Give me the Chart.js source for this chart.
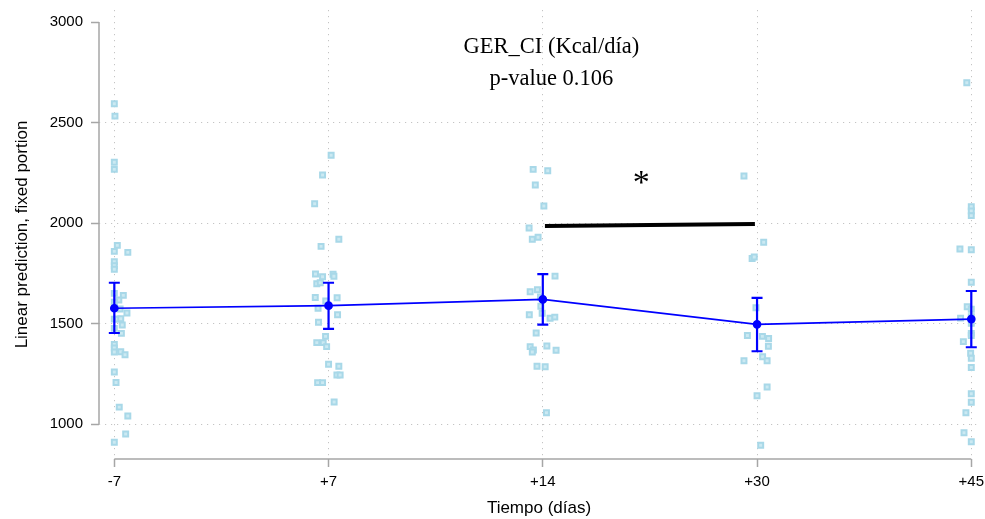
<!doctype html>
<html>
<head>
	<title>GER_CI</title>
	<script src="https://cdn.jsdelivr.net/npm/chart.js@4/dist/chart.umd.min.js"></script>
	<style>
	body { margin: 0; background: #fff; }
	</style>
</head>
<body>
	<canvas id="canvas" width="985" height="519"></canvas>
	<script>

		// time points and model predictions
		var timeLabels = ['-7', '+7', '+14', '+30', '+45'];
		var meanGER = [1576, 1589, 1620, 1496, 1522];
		var ciLow = [1453, 1473, 1495, 1362, 1382];
		var ciHigh = [1703, 1703, 1746, 1628, 1662];
		var yTicks = [1000, 1500, 2000, 2500, 3000];

		// observed values (jitter offset, value) per time point
		var jitM7 = [0, 0.003, 0, 0, 0.014, 0, 0.063, 0, 0, 0, 0, 0.042, 0.021, 0, 0, 0.027, 0.059, 0, 0.014, 0.030, 0.037, 0, 0.033, 0, 0, 0, 0.030, 0.050, 0, 0.008, 0.023, 0.063, 0.053, 0];
		var obsM7 = [2594, 2532, 2302, 2267, 1889, 1859, 1854, 1808, 1788, 1770, 1650, 1640, 1617, 1606, 1580, 1572, 1552, 1522, 1522, 1524, 1493, 1476, 1451, 1396, 1378, 1358, 1360, 1345, 1259, 1207, 1084, 1040, 950, 909];
		var jitP7 = [0.012, -0.028, -0.065, 0.048, -0.035, -0.061, -0.028, 0.021, 0.025, -0.055, -0.039, -0.062, 0.040, -0.013, -0.049, 0.042, -0.047, -0.014, -0.055, -0.025, -0.009, 0, 0.048, 0.039, 0.054, -0.051, -0.028, 0.026];
		var obsP7 = [2337, 2239, 2096, 1919, 1884, 1746, 1733, 1745, 1735, 1698, 1703, 1630, 1628, 1612, 1576, 1544, 1506, 1436, 1405, 1405, 1385, 1297, 1287, 1244, 1244, 1206, 1206, 1110];
		var jitP14 = [-0.045, 0.023, -0.035, 0.005, -0.064, -0.049, -0.022, 0.057, -0.059, -0.025, -0.011, -0.009, -0.003, -0.063, 0.034, 0.056, -0.031, -0.059, -0.044, -0.049, 0.019, 0.062, -0.027, 0.011, 0.017];
		var obsP14 = [2267, 2260, 2189, 2085, 1975, 1919, 1929, 1736, 1658, 1668, 1632, 1586, 1551, 1544, 1526, 1532, 1453, 1385, 1368, 1358, 1388, 1367, 1287, 1285, 1056];
		var jitP30 = [-0.061, 0.031, -0.023, -0.013, -0.005, -0.045, 0.025, 0.054, 0.053, 0.026, 0.047, -0.061, 0.047, 0, 0.017];
		var obsP30 = [2234, 1904, 1824, 1831, 1579, 1440, 1436, 1426, 1387, 1335, 1315, 1315, 1184, 1141, 894];
		var jitP45 = [-0.021, 0, 0, 0, -0.053, 0, 0, -0.019, 0, -0.050, 0, 0, 0, 0, -0.037, -0.003, 0, 0, 0, 0, -0.025, -0.034, 0];
		var obsP45 = [2698, 2081, 2060, 2037, 1871, 1867, 1705, 1584, 1571, 1527, 1534, 1501, 1451, 1440, 1410, 1352, 1327, 1281, 1151, 1108, 1056, 957, 912];

		// significance bar between +14 and +30
		var sigX = [2.01, 2.99];
		var sigY = [1985, 1995];
		var sigStar = {x: 2.46, y: 2224};

		var sansFont = "'Liberation Sans', Arial, sans-serif";
		var serifFont = "'Liberation Serif', 'Times New Roman', serif";

		var jitters = [jitM7, jitP7, jitP14, jitP30, jitP45];
		var observed = [obsM7, obsP7, obsP14, obsP30, obsP45];

		var datasets = [];
		// mean line (drawn on top)
		datasets.push({
			data: meanGER.map(function(v, i) { return {x: i, y: v}; }),
			borderColor: '#0000ff',
			backgroundColor: '#0000ff',
			borderWidth: 1.7,
			pointRadius: 3.5,
			showLine: true,
			order: 0
		});
		datasets.push({
			data: [{x: sigX[0], y: sigY[0]}, {x: sigX[1], y: sigY[1]}],
			borderColor: '#000',
			borderWidth: 4,
			pointRadius: 0,
			showLine: true,
			order: 1
		});
		observed.forEach(function(vals, i) {
			datasets.push({
				data: vals.map(function(v, k) { return {x: i + jitters[i][k], y: v}; }),
				pointStyle: 'rect',
				pointRadius: 3.5,
				backgroundColor: '#cbe9f2',
				borderColor: '#a8d8e8',
				borderWidth: 2,
				showLine: false,
				order: 2
			});
		});

		function noPad(s) {
			s.paddingTop = 0; s.paddingBottom = 0;
			s.paddingLeft = 0; s.paddingRight = 0;
		}

		var extras = {
			id: 'extras',
			afterDatasetsDraw: function(chart) {
				var ctx = chart.ctx;
				var x = chart.scales.x, y = chart.scales.y;
				var area = chart.chartArea;
				ctx.save();
				// confidence intervals
				ctx.strokeStyle = '#0000ff';
				ctx.lineWidth = 2.2;
				meanGER.forEach(function(m, i) {
					var px = x.getPixelForValue(i);
					var y1 = y.getPixelForValue(ciLow[i]);
					var y2 = y.getPixelForValue(ciHigh[i]);
					ctx.beginPath();
					ctx.moveTo(px, y1); ctx.lineTo(px, y2);
					ctx.moveTo(px - 5.5, y1); ctx.lineTo(px + 5.5, y1);
					ctx.moveTo(px - 5.5, y2); ctx.lineTo(px + 5.5, y2);
					ctx.stroke();
				});
				// axis lines over tick range only
				ctx.strokeStyle = '#a6a6a6';
				ctx.lineWidth = 1.5;
				ctx.beginPath();
				ctx.moveTo(area.left, y.getPixelForValue(yTicks[0]));
				ctx.lineTo(area.left, y.getPixelForValue(yTicks[yTicks.length - 1]));
				ctx.moveTo(x.getPixelForValue(0), area.bottom);
				ctx.lineTo(x.getPixelForValue(timeLabels.length - 1), area.bottom);
				ctx.stroke();
				// asterisk
				ctx.fillStyle = '#000';
				ctx.textAlign = 'center';
				ctx.textBaseline = 'middle';
				ctx.font = '34px ' + serifFont;
				ctx.fillText('*', x.getPixelForValue(sigStar.x), y.getPixelForValue(sigStar.y) + 6);
				// title
				var cx = x.getPixelForValue(2.04);
				ctx.font = '22.5px ' + serifFont;
				ctx.fillText('GER_CI (Kcal/día)', cx, area.top + 37);
				ctx.fillText('p-value 0.106', cx, area.top + 69);
				ctx.restore();
			}
		};

		window.onload = function() {
			var ctx = document.getElementById('canvas').getContext('2d');
			window.myChart = new Chart(ctx, {
				type: 'scatter',
				data: {datasets: datasets},
				plugins: [extras],
				options: {
					responsive: false,
					animation: false,
					devicePixelRatio: 1,
					layout: {padding: {top: 10, right: 0, bottom: 0, left: 0}},
					plugins: {
						legend: {display: false},
						tooltip: {enabled: false}
					},
					scales: {
						x: {
							type: 'linear',
							min: -0.0715,
							max: 4.036,
							afterBuildTicks: function(s) {
								s.ticks = timeLabels.map(function(t, i) { return {value: i}; });
							},
							afterFit: function(s) { s.height = 60; noPad(s); },
							ticks: {
								callback: function(v) { return timeLabels[v]; },
								font: {size: 15, family: sansFont},
								color: '#000',
								padding: 6,
								maxRotation: 0,
								autoSkip: false
							},
							grid: {
								color: '#c4c4c4',
								tickColor: '#a6a6a6',
								tickWidth: 1.5,
								tickLength: 8
							},
							border: {display: false, dash: [1.2, 4.8]},
							title: {
								display: true,
								text: 'Tiempo (días)',
								font: {size: 17, family: sansFont},
								color: '#000',
								padding: {top: 2, bottom: 0}
							}
						},
						y: {
							type: 'linear',
							min: 826,
							max: 3060,
							afterBuildTicks: function(s) {
								s.ticks = yTicks.map(function(v) { return {value: v}; });
							},
							afterFit: function(s) { s.width = 99; noPad(s); },
							ticks: {
								callback: function(v) { return String(v); },
								font: {size: 15, family: sansFont},
								color: '#000',
								padding: 8
							},
							grid: {
								color: function(c) { return c.tick && c.tick.value === 3000 ? 'rgba(0,0,0,0)' : '#c4c4c4'; },
								tickColor: '#a6a6a6',
								tickWidth: 1.5,
								tickLength: 8
							},
							border: {display: false, dash: [1.2, 4.8]},
							title: {
								display: true,
								text: 'Linear prediction, fixed portion',
								font: {size: 17, family: sansFont},
								color: '#000',
								padding: {top: 12, bottom: 0}
							}
						}
					}
				}
			});
		};

	</script>
</body>
</html>
